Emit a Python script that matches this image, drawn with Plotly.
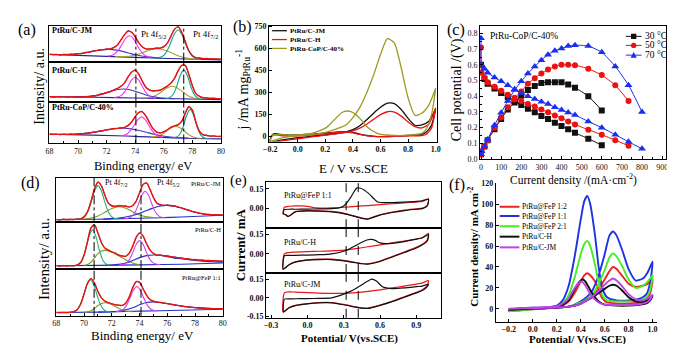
import numpy as np
import plotly.graph_objects as go

W, H = 675, 344
SERIF = "Liberation Serif"

# ======================= DATA =======================
# ---- (a) XPS Pt 4f, spectra on a 0.25 eV grid (68 -> 80 eV), normalised per sub-panel
XPS_START, XPS_STEP = 68.0, 0.25
A_NAMES = ["PtRu/C-JM", "PtRu/C-H", "PtRu-CoP/C-40%"]
A_DATA = [
    [.215,.19,.205,.18,.21,.19,.215,.2,.23,.215,.26,.255,.295,.3,.335,.325,.36,.345,.4,.46,.61,.74,.87,.81,.7,.52,.42,.35,.365,.355,.385,.37,.43,.51,.72,.89,.98,.82,.57,.3,.18,.1,.11,.08,.095,.07,.085,.065,.08],
    [.13,.105,.125,.11,.13,.105,.125,.11,.125,.105,.13,.12,.15,.14,.185,.19,.235,.24,.3,.32,.39,.46,.63,.73,.8,.68,.52,.35,.3,.26,.28,.28,.34,.38,.47,.57,.78,.9,.92,.68,.41,.19,.14,.09,.1,.075,.09,.065,.08],
    [.23,.21,.225,.205,.225,.21,.23,.215,.235,.225,.25,.24,.27,.27,.3,.3,.335,.33,.36,.355,.38,.38,.44,.51,.65,.74,.77,.65,.5,.35,.28,.25,.285,.32,.39,.415,.455,.52,.72,.87,.81,.5,.3,.2,.2,.17,.185,.165,.175],
]
A_ENV = [
    [.201,.199,.196,.195,.195,.197,.201,.208,.217,.23,.247,.265,.285,.305,.321,.334,.344,.356,.389,.465,.596,.749,.845,.818,.689,.525,.406,.355,.349,.36,.371,.38,.413,.514,.702,.898,.965,.824,.558,.31,.165,.11,.095,.088,.082,.078,.075,.072,.07],
    [.12,.12,.12,.119,.119,.118,.118,.117,.116,.117,.121,.127,.137,.151,.172,.196,.222,.25,.29,.33,.38,.47,.61,.74,.78,.69,.51,.36,.29,.27,.27,.29,.33,.39,.46,.58,.76,.91,.9,.69,.4,.2,.13,.1,.09,.085,.08,.075,.07],
    [.22,.219,.218,.217,.217,.217,.218,.221,.225,.231,.239,.25,.262,.276,.291,.308,.324,.339,.351,.361,.369,.386,.427,.514,.637,.743,.756,.657,.497,.355,.273,.253,.277,.328,.384,.422,.446,.525,.712,.878,.799,.513,.29,.21,.19,.18,.175,.17,.165],
]
BASE_X = [68, 71, 74, 77, 80]
A_BASE = [[.2,.16,.12,.08,.05], [.12,.11,.09,.07,.05], [.22,.2,.17,.13,.11]]
# fitted components: (first x, step, values)
A_BLUE = [(68.7,.5,[.194,.197,.208,.227,.263,.303,.33,.34,.32,.278,.223,.177,.143,.122,.104]),
          (69.7,.5,[.118,.119,.127,.15,.19,.246,.295,.315,.289,.235,.172,.126,.097,.083,.075]),
          (68.7,.5,[.217,.217,.221,.229,.247,.273,.306,.335,.358,.363,.348,.314,.274,.229,.192,.165,.146,.135,.127])]
A_MAG = [(72.1,.25,[.153,.169,.227,.336,.498,.656,.72,.65,.488,.318,.202,.141,.118]),
         (72.5,.25,[.103,.113,.15,.238,.386,.542,.61,.538,.38,.228,.136,.097,.083]),
         (72.95,.25,[.184,.196,.233,.318,.447,.577,.634,.571,.434,.299,.209,.165,.148])]
A_OLIVE = [(72.6,.5,[.14,.139,.151,.19,.259,.331,.359,.318,.232,.15,.10,.076,.066]),
           (74.6,.25,[.09,.095,.11,.138,.185,.248,.312,.362,.383,.359,.305,.238,.171,.121,.09,.072,.064]),
           (75.1,.25,[.159,.163,.179,.212,.266,.332,.386,.407,.38,.321,.25,.192,.153,.132,.124])]
A_TEAL = [(75.5,.25,[.105,.119,.174,.311,.538,.776,.88,.771,.526,.294,.151,.09,.07]),
          (76.15,.25,[.078,.097,.177,.376,.652,.788,.649,.371,.168,.086,.063]),
          (76.6,.25,[.137,.147,.208,.392,.666,.815,.663,.385,.199,.133,.119])]
A_REF = [74.05, 77.4]

# ---- (d) XPS Pt 4f
D_NAMES = ["PtRu/C-JM", "PtRu/C-H", "PtRu@FeP 1:1"]
D_DATA = [
    [.07,.05,.075,.055,.07,.06,.08,.075,.13,.24,.48,.74,.91,.81,.61,.42,.38,.35,.38,.36,.37,.34,.38,.47,.67,.84,.89,.73,.56,.42,.4,.37,.39,.365,.375,.335,.33,.29,.285,.24,.235,.2,.2,.175,.18,.16,.175,.155,.17],
    [.08,.06,.08,.065,.08,.065,.095,.135,.31,.59,.89,.95,.76,.57,.44,.41,.36,.345,.29,.285,.27,.345,.48,.69,.78,.71,.54,.41,.34,.3,.305,.28,.29,.26,.265,.24,.245,.22,.225,.2,.21,.19,.2,.18,.19,.17,.185,.165,.175],
    [.075,.065,.075,.068,.078,.085,.135,.25,.475,.7,.8,.69,.52,.38,.32,.275,.26,.235,.23,.22,.275,.4,.6,.73,.72,.575,.445,.345,.315,.29,.29,.268,.265,.245,.24,.22,.215,.195,.195,.18,.18,.168,.17,.16,.162,.152,.156,.15,.152],
]
D_ENV = [
    [.06,.061,.062,.0625,.063,.065,.068,.079,.122,.241,.47,.747,.894,.813,.6,.429,.365,.36,.369,.368,.356,.346,.37,.473,.663,.843,.875,.736,.551,.431,.388,.38,.38,.375,.363,.345,.322,.297,.273,.249,.227,.209,.193,.181,.174,.168,.165,.165,.165],
    [.07,.071,.072,.0725,.073,.074,.087,.14,.3,.6,.882,.942,.77,.564,.45,.404,.367,.338,.301,.278,.276,.339,.487,.674,.77,.705,.548,.407,.333,.305,.295,.288,.28,.268,.255,.245,.235,.225,.215,.207,.2,.195,.19,.185,.18,.178,.175,.172,.17],
    [.07,.07,.071,.072,.075,.087,.132,.252,.47,.703,.795,.698,.518,.383,.314,.281,.255,.24,.225,.225,.27,.403,.598,.733,.715,.58,.44,.35,.312,.294,.285,.272,.26,.248,.235,.223,.21,.2,.19,.183,.175,.171,.165,.162,.158,.155,.153,.151,.15],
]
D_BASE = [[.06,.07,.09,.12,.16], [.07,.08,.09,.105,.13], [.07,.08,.1,.12,.14]]
D_TEAL = [(69.5,.25,[.067,.076,.115,.226,.443,.7,.82,.702,.446,.23,.12,.084,.077]),
          (69.35,.25,[.078,.1,.185,.399,.693,.838,.694,.402,.191,.104,.084]),
          (68.95,.25,[.074,.083,.118,.22,.421,.657,.767,.658,.424,.225,.123,.09,.083])]
D_OLIVE = [(69.5,.5,[.067,.075,.095,.144,.225,.311,.35,.317,.239,.164,.122,.108,.107]),
           (70.0,.25,[.08,.1,.15,.24,.33,.385,.4,.39,.36,.325,.285,.24,.2,.16,.13,.11,.095]),
           (70.0,.25,[.078,.085,.11,.16,.22,.265,.28,.27,.24,.2,.16,.125,.105,.095,.09])]
D_MAG = [(72.9,.25,[.084,.093,.125,.214,.39,.597,.694,.6,.397,.224,.138,.11,.104]),
         (72.5,.25,[.088,.095,.121,.198,.349,.527,.61,.528,.352,.202,.128,.103,.098]),
         (72.3,.25,[.09,.099,.133,.219,.375,.548,.627,.551,.382,.23,.146,.115,.109])]
D_BLUE = [(71.4,.5,[.075,.082,.093,.114,.146,.192,.252,.312,.359,.379,.368,.331,.282,.235,.199,.176,.166,.165]),
          (71.5,.5,[.082,.086,.1,.13,.185,.245,.288,.3,.29,.265,.235,.22,.2,.185,.17,.16,.155,.15]),
          (71.0,.5,[.08,.083,.09,.105,.13,.175,.235,.285,.298,.285,.26,.235,.21,.19,.175,.165,.158,.153,.15])]
D_REF = [70.72, 74.1]
XPS_TICKS = [68, 70, 72, 74, 76, 78, 80]

# ---- (b) CVs, mA mg-1 vs E (V vs SCE)
B_NAMES = ["PtRu/C-JM", "PtRu/C-H", "PtRu-CoP/C-40%"]
B_FWD_X = [-0.2,-0.1,0.0,0.1,0.2,0.3,0.35,0.4,0.45,0.5,0.55,0.6,0.65,0.7,0.75,0.8,0.85,0.9,0.95,1.0]
B_REV_X = [1.0,0.97,0.93,0.9,0.8,0.7,0.6,0.55,0.5,0.45,0.4,0.35,0.3,0.2,0.1,0.0,-0.1,-0.14,-0.17,-0.19,-0.2]
B_JM_FWD = [-35,-20,-7,3,13,25,33,48,75,115,160,200,228,225,185,125,78,80,105,190]
B_JM_REV = [190,80,30,15,8,3,0,2,8,18,30,35,33,25,18,12,12,18,20,5,-35]
B_H_FWD = [-40,-27,-14,-2,10,22,30,40,58,85,118,150,170,168,140,100,68,60,85,195]
B_H_REV = [195,60,15,8,5,2,0,3,7,15,26,32,31,22,12,5,5,10,12,0,-40]
B_COP_FWD = [-30,-5,8,15,30,60,80,130,200,300,420,560,668,640,470,265,145,160,215,330]
B_COP_REV_X = [1.0,0.97,0.93,0.9,0.8,0.7,0.6,0.55,0.5,0.45,0.4,0.36,0.32,0.28,0.24,0.2,0.1,0.0,-0.1,-0.15,-0.18,-0.2]
B_COP_REV = [330,150,50,22,10,8,15,35,70,125,165,175,165,130,90,58,22,12,12,15,12,-30]
B_YTICKS = [0, 150, 300, 450, 600, 750]

# ---- (c) polarisation / power curves
C_X30 = [0,17,33,67,100,133,167,200,233,267,300,333,367,400,433,467,533,600]
C_V30 = [.60,.51,.48,.45,.42,.395,.37,.345,.32,.298,.275,.255,.232,.21,.19,.167,.13,.088]
C_P30 = [.03,.08,.12,.19,.255,.315,.36,.405,.44,.465,.485,.49,.49,.49,.475,.455,.40,.31]
C_X50 = [0,3,17,33,67,100,133,167,200,233,267,300,333,367,400,433,467,533,600,667,733]
C_V50 = [.71,.55,.52,.49,.46,.435,.41,.39,.37,.35,.335,.315,.298,.278,.26,.24,.22,.187,.155,.12,.085]
C_P50 = [.03,.05,.08,.12,.2,.265,.33,.38,.43,.48,.515,.545,.57,.59,.6,.6,.598,.575,.535,.47,.37]
C_X70 = [0,3,17,33,67,100,133,167,200,233,267,300,333,367,400,433,467,533,600,667,733,800]
C_V70 = [.77,.6,.575,.55,.52,.495,.47,.445,.42,.4,.383,.365,.35,.33,.313,.297,.28,.24,.2,.155,.11,.065]
C_P70 = [.03,.05,.08,.125,.215,.295,.37,.44,.495,.545,.59,.63,.665,.69,.705,.72,.725,.72,.68,.59,.47,.3]
C_NAMES = ["30 \u00b0C", "50 \u00b0C", "70 \u00b0C"]

# ---- (e) CVs in three stacked panels (mA)
E_NAMES = ["PtRu@FeP 1:1", "PtRu/C-H", "PtRu/C-JM"]
E_BLK_FX = [[-0.2,-0.19,-0.15,-0.1,0.0,0.1,0.2,0.26,0.3,0.33,0.36,0.39,0.41,0.44,0.5,0.55,0.58,0.65,0.8,0.9,0.95,1.0],
            [-0.2,-0.19,-0.15,-0.1,0.0,0.1,0.2,0.3,0.35,0.4,0.45,0.5,0.53,0.56,0.6,0.65,0.7,0.8,0.9,0.95,1.0],
            [-0.2,-0.19,-0.15,-0.1,0.0,0.1,0.2,0.3,0.35,0.4,0.45,0.5,0.53,0.57,0.62,0.7,0.8,0.9,0.95,1.0]]
E_BLK_FY = [[-0.04,-0.008,-0.005,-0.005,-0.004,-0.002,0.0,0.005,0.02,0.05,0.09,0.135,0.158,0.155,0.12,0.075,0.05,0.045,0.05,0.055,0.06,0.07],
            [-0.12,-0.015,-0.013,-0.012,-0.01,-0.007,0.0,0.02,0.04,0.065,0.09,0.11,0.113,0.105,0.085,0.08,0.082,0.095,0.115,0.125,0.15],
            [-0.11,-0.01,-0.008,-0.007,-0.006,-0.004,0.0,0.03,0.05,0.075,0.105,0.135,0.15,0.135,0.09,0.075,0.08,0.09,0.095,0.11]]
E_REV_X = [[0.99,0.95,0.9,0.8,0.7,0.6,0.55,0.5,0.45,0.4,0.35,0.3,0.2,0.1,0.0,-0.1,-0.13,-0.16,-0.18,-0.2],
           [0.99,0.95,0.9,0.8,0.7,0.6,0.5,0.45,0.4,0.3,0.2,0.1,0.0,-0.1,-0.15,-0.2],
           [0.99,0.95,0.9,0.8,0.7,0.6,0.5,0.45,0.4,0.3,0.2,0.1,0.0,-0.1,-0.15,-0.2]]
E_BLK_RY = [[0.02,0.0,-0.005,-0.015,-0.03,-0.05,-0.065,-0.08,-0.075,-0.062,-0.05,-0.038,-0.025,-0.02,-0.018,-0.025,-0.045,-0.06,-0.045,-0.04],
            [0.1,0.07,0.045,0.01,-0.025,-0.06,-0.08,-0.078,-0.07,-0.055,-0.045,-0.045,-0.05,-0.065,-0.085,-0.12],
            [0.09,0.06,0.04,0.005,-0.03,-0.06,-0.085,-0.083,-0.075,-0.055,-0.04,-0.04,-0.048,-0.062,-0.08,-0.115]]
E_RED_FX = [[-0.2,-0.19,-0.15,-0.1,-0.05,0.0,0.05,0.1,0.2,0.3,0.4,0.5,0.6,0.7,0.8,0.9,0.95,1.0],
            [-0.2,-0.19,-0.15,-0.1,0.0,0.1,0.2,0.3,0.4,0.5,0.6,0.7,0.8,0.9,0.95,1.0],
            [-0.2,-0.19,-0.15,-0.1,0.0,0.1,0.2,0.3,0.4,0.5,0.6,0.7,0.8,0.9,0.95,1.0]]
E_RED_FY = [[-0.04,0.01,0.018,0.02,0.02,0.017,0.008,0.004,0.005,0.01,0.017,0.023,0.03,0.037,0.043,0.05,0.055,0.075],
            [-0.12,0.0,0.01,0.013,0.017,0.02,0.023,0.028,0.04,0.055,0.07,0.085,0.1,0.115,0.125,0.16],
            [-0.115,0.04,0.048,0.047,0.042,0.038,0.036,0.036,0.042,0.052,0.065,0.08,0.095,0.11,0.12,0.14]]
E_RED_RY = [[0.025,0.003,-0.002,-0.012,-0.027,-0.047,-0.062,-0.078,-0.073,-0.06,-0.047,-0.035,-0.022,-0.017,-0.016,-0.023,-0.043,-0.062,-0.047,-0.04],
            [0.11,0.075,0.05,0.013,-0.022,-0.057,-0.078,-0.076,-0.068,-0.052,-0.042,-0.042,-0.048,-0.063,-0.083,-0.12],
            [0.1,0.065,0.045,0.008,-0.027,-0.058,-0.082,-0.08,-0.072,-0.052,-0.037,-0.037,-0.046,-0.06,-0.078,-0.115]]
E_REF = [0.32, 0.42]

# ---- (f) CVs, mA cm-2
F_NAMES = ["PtRu@FeP 1:2", "PtRu@FeP 1:1", "PtRu@FeP 2:1", "PtRu/C-H", "PtRu/C-JM"]
F_FWD_X = [-0.2,-0.1,0.0,0.1,0.2,0.3,0.35,0.4,0.45,0.5,0.55,0.6,0.64,0.67,0.7,0.75,0.8,0.86,0.92,0.96,1.0]
F_REV_X1 = [0.98,0.95,0.9,0.8,0.7,0.62,0.58,0.55,0.52,0.48,0.455,0.43,0.4,0.35,0.3,0.25,0.2,0.1,0.0,-0.1,-0.2]
F_REV_X2 = [0.98,0.95,0.9,0.8,0.7,0.6,0.55,0.5,0.47,0.44,0.42,0.4,0.37,0.33,0.3,0.25,0.2,0.1,0.0,-0.1,-0.2]
F_12_FWD = [-2.5,-1.5,-0.5,0.3,1,2,3,5,8,12,19,28,36,40,38,31,24,21,22,24,28]
F_12_REV = [15,9,6,5,5,6,10,18,26,32,34,32,26,15,7,3,1.5,0.5,0,-1,-2.5]
F_11_FWD = [-1,-0.5,0,0.5,1,2,4,7,11,18,32,52,70,74,70,55,38,27,29,35,45]
F_11_REV = [25,14,10,8,8,11,20,40,70,100,108,103,85,50,22,8,3,1,1,0.5,-1]
F_21_FWD = [-2.5,-1.5,-0.5,0.3,1,2,3.5,6,9,14,24,37,49,53,50,40,28,20,22,26,32]
F_21_REV = [18,11,8,7,7,8,13,25,42,60,65,62,52,30,13,5,2,0.5,0,-1,-2.5]
F_H_FWD = [-1,-0.5,0,0.5,1,2,3,5,8,11,15,19,22,23,22,17,11,7,6.5,8,12]
F_H_REV = [8,5,4,3,3,4,7,14,20,26,28,27,23,14,8,4,2,1,0.5,0,-1]
F_JM_FWD = [0,0.3,0.5,0.8,1.2,2,3,5,8,12,17,23,27,29,27,21,14,9,8,10,13.5]
F_JM_REV = [9,6,4.5,3.5,3.5,4,6,11,16,22,25,26,23,16,10,5,2.5,1.5,1,0.5,0]

# ======================= FIGURE =======================
fig = go.Figure()
layout = dict(width=W, height=H, margin=dict(l=0, r=0, t=0, b=0),
              paper_bgcolor="white", plot_bgcolor="white", showlegend=False)
annotations, shapes = [], []

def fx(p): return p / W
def fy(p): return 1 - p / H
def nm(prefix, i): return prefix + ("" if i == 1 else str(i))

def base_axis(**kw):
    d = dict(showline=True, linecolor="black", linewidth=1, mirror=True, showgrid=False,
             zeroline=False, ticks="inside", ticklen=3, tickwidth=1, tickcolor="black",
             tickfont=dict(family=SERIF, size=8, color="#111"))
    d.update(kw)
    return d

def add_axes(i, xdom, ydom, xkw, ykw):
    layout["xaxis" + ("" if i == 1 else str(i))] = base_axis(domain=[fx(xdom[0]), fx(xdom[1])],
                                                               anchor=nm("y", i), **xkw)
    layout["yaxis" + ("" if i == 1 else str(i))] = base_axis(domain=[fy(ydom[1]), fy(ydom[0])],
                                                               anchor=nm("x", i), **ykw)

def text(s, px, py, size, xa="center", ya="middle", angle=0, color="black", bold=False, align="center"):
    annotations.append(dict(text=s, x=fx(px), y=fy(py), xref="paper", yref="paper", showarrow=False,
                            xanchor=xa, yanchor=ya, textangle=angle, align=align, borderpad=0,
                            font=dict(family=SERIF, size=size, color=color,
                                      weight="bold" if bold else "normal")))

def line(xs, ys, i, color, width, smooth=1.0, **kw):
    fig.add_trace(go.Scatter(x=xs, y=ys, mode="lines", xaxis=nm("x", i), yaxis=nm("y", i),
                             line=dict(color=color, width=width, shape="spline", smoothing=smooth),
                             hoverinfo="skip", **kw))

def comp_x(c):
    return [c[0] + c[1] * k for k in range(len(c[2]))]

def xps_grid(vals):
    return [XPS_START + XPS_STEP * k for k in range(len(vals))]

# ---------- XPS panels (a) and (d) ----------
def xps_panel(first_axis, xdom, subs, data, env, base, blue, mag, olive, teal, ref, cols):
    for k in range(3):
        i = first_axis + k
        bottom = (k == 2)
        xkw = dict(range=[68, 80], tickvals=XPS_TICKS, showticklabels=bottom,
                   ticks="inside" if bottom else "", ticklen=3)
        if bottom:
            xkw["minor"] = dict(dtick=1, ticks="inside", ticklen=2, tickcolor="black")
        add_axes(i, xdom, subs[k], xkw, dict(range=[0, 1.0], showticklabels=False, ticks=""))
        line(xps_grid(data[k]), data[k], i, "#1a1a1a", 0.8, smooth=0.3)
        line(BASE_X, base[k], i, cols["base"], 1.1)
        line(comp_x(olive[k]), olive[k][2], i, cols["olive"], 1.1)
        line(comp_x(blue[k]), blue[k][2], i, cols["blue"], 1.1)
        line(comp_x(mag[k]), mag[k][2], i, cols["mag"], 1.1)
        line(comp_x(teal[k]), teal[k][2], i, cols["teal"], 1.1)
        line(xps_grid(env[k]), env[k], i, "#ee1111", 1.4)
        for v in ref:
            shapes.append(dict(type="line", xref=nm("x", i), yref=nm("y", i) + " domain",
                               x0=v, x1=v, y0=0, y1=1, line=dict(color="black", width=1, dash="dashdot")))

A_SUBS = [(14, 51), (51, 92), (92, 135)]
D_SUBS = [(170, 216), (216, 264), (264, 312)]
xps_panel(1, (36, 210), A_SUBS, A_DATA, A_ENV, A_BASE, A_BLUE, A_MAG, A_OLIVE, A_TEAL, A_REF,
          dict(base="#24249a", olive="#aaa236", blue="#3c3cb8", mag="#ff2cff", teal="#139e8c"))
xps_panel(4, (43, 212), D_SUBS, D_DATA, D_ENV, D_BASE, D_BLUE, D_MAG, D_OLIVE, D_TEAL, D_REF,
          dict(base="#2030c0", olive="#7c9e1c", blue="#1f2ec9", mag="#d23ef2", teal="#1faf7c"))

# ---------- (b) ----------
add_axes(7, (259, 429), (14, 133),
         dict(range=[-0.207, 1.007], tickvals=[-0.2, 0, 0.2, 0.4, 0.6, 0.8, 1.0], tickformat=".1f",
              tickfont=dict(family=SERIF, size=8, color="#111", weight="bold")),
         dict(range=[-33, 757], tickvals=B_YTICKS,
              tickfont=dict(family=SERIF, size=8, color="#111", weight="bold")))
B_COLS = ["#111111", "#ee1111", "#9c9a1e"]
line(B_FWD_X + B_REV_X, B_JM_FWD + B_JM_REV, 7, B_COLS[0], 1.3, smooth=0.6)
line(B_FWD_X + B_REV_X, B_H_FWD + B_H_REV, 7, B_COLS[1], 1.3, smooth=0.6)
line(B_FWD_X + B_COP_REV_X, B_COP_FWD + B_COP_REV, 7, B_COLS[2], 1.3, smooth=0.6)

# ---------- (c) ----------
add_axes(8, (473, 662), (14, 151),
         dict(range=[-5, 920], tickvals=list(range(0, 901, 100)),
              minor=dict(dtick=50, ticks="inside", ticklen=2, tickcolor="black")),
         dict(range=[0, 0.85], tickvals=[0, .1, .2, .3, .4, .5, .6, .7, .8], tickformat=".1f",
              minor=dict(dtick=0.05, ticks="inside", ticklen=2, tickcolor="black")))
C_COLS = ["#111111", "#ee1111", "#1a2ef0"]
C_SYM = ["square", "circle", "triangle-up"]
for (xs, vs, ps), col, sym in zip([(C_X30, C_V30, C_P30), (C_X50, C_V50, C_P50), (C_X70, C_V70, C_P70)],
                                  C_COLS, C_SYM):
    for ys in (vs, ps):
        fig.add_trace(go.Scatter(x=xs, y=ys, mode="lines+markers", xaxis="x8", yaxis="y8",
                                 line=dict(color=col, width=1, shape="spline", smoothing=0.6),
                                 marker=dict(symbol=sym, size=6 if sym != "triangle-up" else 7, color=col),
                                 hoverinfo="skip"))

# ---------- (e) ----------
E_SUBS = [(175, 222), (222, 268), (268, 314)]
for k in range(3):
    i = 9 + k
    bottom = (k == 2)
    xkw = dict(range=[-0.34, 1.1], tickvals=[-0.3, 0, 0.3, 0.6, 0.9], tickformat=".1f",
               showticklabels=bottom, ticks="inside" if bottom else "",
               tickfont=dict(family=SERIF, size=8, color="#111", weight="bold"))
    if bottom:
        ykw = dict(range=[-0.16, 0.2], tickvals=[-0.15, 0, 0.15], ticktext=["-0.15", "0.00", "0.15"])
    else:
        ykw = dict(range=[-0.15, 0.2], tickvals=[0, 0.15], ticktext=["0.00", "0.15"])
    ykw["tickfont"] = dict(family=SERIF, size=8, color="#111", weight="bold")
    add_axes(i, (256, 433), E_SUBS[k], xkw, ykw)
    line(E_RED_FX[k] + E_REV_X[k], E_RED_FY[k] + E_RED_RY[k], i, "#e8151b", 1.2, smooth=0.6)
    line(E_BLK_FX[k] + E_REV_X[k], E_BLK_FY[k] + E_BLK_RY[k], i, "#111111", 1.2, smooth=0.6)
    for v in E_REF:
        shapes.append(dict(type="line", xref=nm("x", i), yref=nm("y", i) + " domain",
                           x0=v, x1=v, y0=0, y1=1, line=dict(color="black", width=1, dash="dash")))

# ---------- (f) ----------
add_axes(12, (489, 653), (176, 318),
         dict(range=[-0.309, 1.04], tickvals=[-0.2, 0, 0.2, 0.4, 0.6, 0.8, 1.0], tickformat=".1f",
              mirror=False, tickfont=dict(family=SERIF, size=8, color="#111", weight="bold")),
         dict(range=[-12.4, 120], tickvals=list(range(0, 121, 20)), mirror=False,
              tickfont=dict(family=SERIF, size=8, color="#111", weight="bold")))
F_COLS = ["#e8262a", "#1f33e6", "#44ee22", "#111111", "#c040ec"]
F_SERIES = [(F_FWD_X + F_REV_X1, F_12_FWD + F_12_REV), (F_FWD_X + F_REV_X1, F_11_FWD + F_11_REV),
            (F_FWD_X + F_REV_X1, F_21_FWD + F_21_REV), (F_FWD_X + F_REV_X2, F_H_FWD + F_H_REV),
            (F_FWD_X + F_REV_X2, F_JM_FWD + F_JM_REV)]
for (xs, ys), col in zip(F_SERIES, F_COLS):
    line(xs, ys, 12, col, 1.9, smooth=0.6)

# ======================= TEXT / LEGENDS =======================
# panel letters
for s, px, py, sz in [("(a)", 13, 18, 16), ("(b)", 232, 15, 16), ("(c)", 449, 18, 16),
                      ("(d)", 17, 176, 16), ("(e)", 228, 173, 15), ("(f)", 450, 178, 16)]:
    text(s, px, py, sz)

# (a)
text("Intensity/ a.u.", 25, 76, 14, angle=-90)
text("Binding energy/ eV", 131, 158, 12.5)
for s, py in zip(A_NAMES, [19, 60, 98]):
    text(s, 37.5, py, 8, xa="left", bold=True)
text("Pt 4f<sub>5/2</sub>", 142, 23, 9)
text("Pt 4f<sub>7/2</sub>", 194, 23, 9)

# (d)
text("Intensity/ a.u.", 31, 254, 15, angle=-90)
text("Binding energy/ eV", 130, 332, 13)
text("Pt 4f<sub>7/2</sub>", 104.5, 176, 8)
text("Pt 4f<sub>5/2</sub>", 156.5, 176, 8)
for s, py in zip(D_NAMES, [176, 223, 273]):
    text(s, 211, py, 6.5, xa="right")

# (b)  legend drawn as one three-line text block with line samples
text("j /mA mg<sub>PtRu</sub><sup>-1</sup>", 232, 80, 14, angle=-90)
text("E / V vs.SCE", 345, 161, 13)
B_LEG_SIZE = 7
b_step = 1.3 * B_LEG_SIZE
b_mid = 28.3
for k, col in enumerate(B_COLS):
    py = b_mid + (k - 1) * b_step
    shapes.append(dict(type="line", xref="paper", yref="paper", x0=fx(262), x1=fx(277), y0=fy(py), y1=fy(py),
                       line=dict(color=col, width=1.3)))
text("<br>".join(B_NAMES), 279, b_mid, B_LEG_SIZE, xa="left", bold=True, align="left")

# (c)
text("Cell potential /(V)", 450, 80, 14, angle=-90)
text("Current density /(mA\u00b7cm<sup>-2</sup>)", 568, 172, 11.5)
text("PtRu-CoP/C-40%", 482, 25, 9.5, xa="left")
for s, col, sym, py in zip(C_NAMES, C_COLS, C_SYM, [25, 34.3, 44.3]):
    shapes.append(dict(type="line", xref="paper", yref="paper", x0=fx(621), x1=fx(637), y0=fy(py), y1=fy(py),
                       line=dict(color=col, width=1)))
    cx, r = 629, 2.7
    if sym == "square":
        shapes.append(dict(type="rect", xref="paper", yref="paper", x0=fx(cx - r), x1=fx(cx + r),
                           y0=fy(py + r), y1=fy(py - r), fillcolor=col, line=dict(width=0)))
    elif sym == "circle":
        shapes.append(dict(type="circle", xref="paper", yref="paper", x0=fx(cx - r), x1=fx(cx + r),
                           y0=fy(py + r), y1=fy(py - r), fillcolor=col, line=dict(width=0)))
    else:
        path = "M %f,%f L %f,%f L %f,%f Z" % (fx(cx), fy(py - 3.2), fx(cx - 3.2), fy(py + 2.6), fx(cx + 3.2), fy(py + 2.6))
        shapes.append(dict(type="path", xref="paper", yref="paper", path=path, fillcolor=col, line=dict(width=0)))
    text(s, 639, py, 9.5, xa="left")

# (e)
text("Current/ mA", 230, 239, 13, angle=-90, bold=True)
text("Potential/ V(vs.SCE)", 341, 335, 11, bold=True)
for s, py in zip(E_NAMES, [188, 236.5, 280]):
    text(s, 273, py, 8, xa="left")

# (f)
text("Current density/ mA cm<sup>-2</sup>", 466, 241, 11, angle=-90, bold=True)
text("Potential/ V(vs.SCE)", 572, 336, 11, bold=True)
for s, col, py in zip(F_NAMES, F_COLS, [200, 209.5, 220, 230.7, 241.7]):
    shapes.append(dict(type="line", xref="paper", yref="paper", x0=fx(493), x1=fx(513), y0=fy(py), y1=fy(py),
                       line=dict(color=col, width=2)))
    text(s, 515, py, 7.5, xa="left")

layout["annotations"] = annotations
layout["shapes"] = shapes
fig.update_layout(**layout)
fig.write_html("out.html")
